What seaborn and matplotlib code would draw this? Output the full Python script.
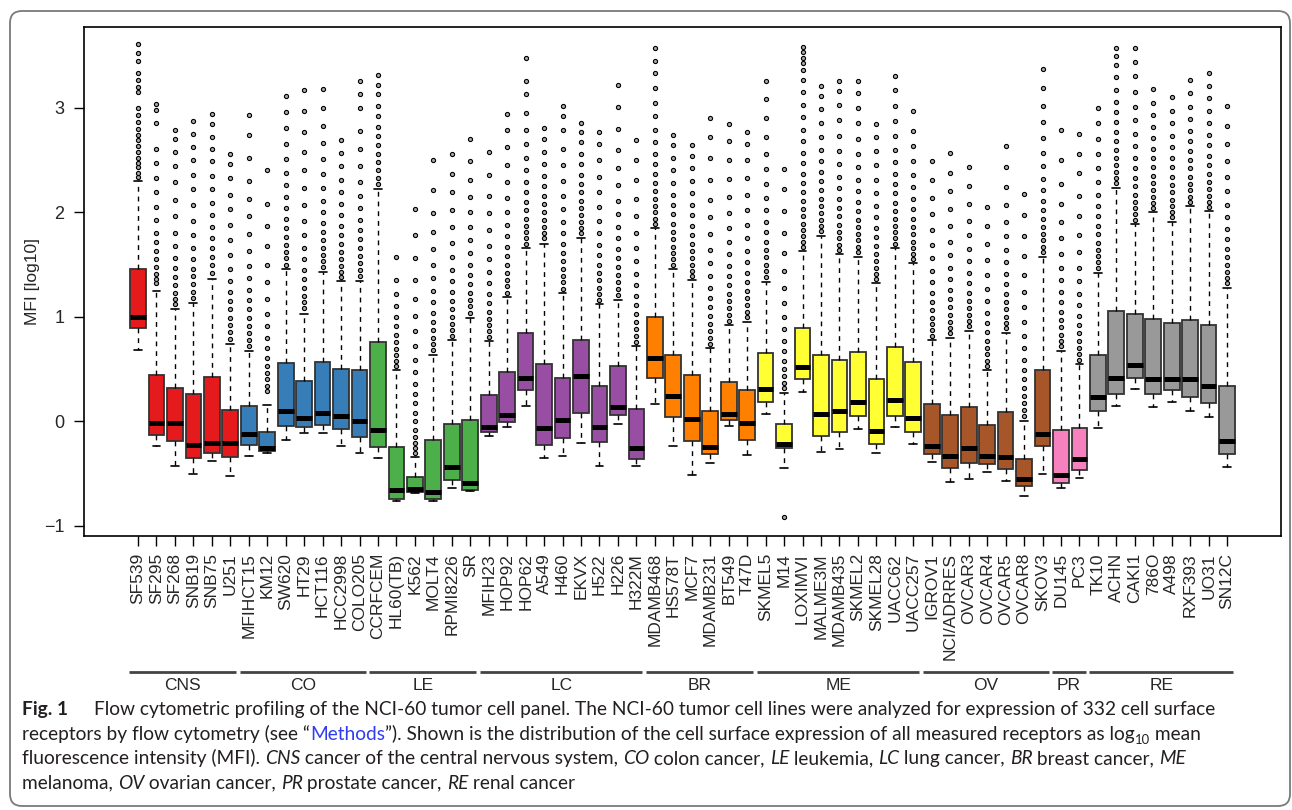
import numpy as np
import pandas as pd
import matplotlib
matplotlib.use("Agg")
import matplotlib.pyplot as plt
from matplotlib.patches import FancyBboxPatch
from matplotlib.transforms import IdentityTransform, blended_transform_factory
import seaborn as sns

# -----------------------------------------------------------------
# data (log10 MFI)
# -----------------------------------------------------------------
lines = ["SF539", "SF295", "SF268", "SNB19", "SNB75", "U251",
         "MFIHCT15", "KM12", "SW620", "HT29", "HCT116", "HCC2998", "COLO205",
         "CCRFCEM", "HL60(TB)", "K562", "MOLT4", "RPMI8226", "SR",
         "MFIH23", "HOP92", "HOP62", "A549", "H460", "EKVX", "H522", "H226", "H322M",
         "MDAMB468", "HS578T", "MCF7", "MDAMB231", "BT549", "T47D",
         "SKMEL5", "M14", "LOXIMVI", "MALME3M", "MDAMB435", "SKMEL2", "SKMEL28",
         "UACC62", "UACC257",
         "IGROV1", "NCI/ADRRES", "OVCAR3", "OVCAR4", "OVCAR5", "OVCAR8", "SKOV3",
         "DU145", "PC3",
         "TK10", "ACHN", "CAKI1", "786O", "A498", "RXF393", "UO31", "SN12C"]

groups = ["CNS", "CO", "LE", "LC", "BR", "ME", "OV", "PR", "RE"]
group_sizes = [6, 7, 6, 9, 6, 9, 7, 2, 8]
group_colors = ["#E41A1C", "#377EB8", "#4DAF4A", "#984EA3", "#FF7F00",
                "#FFFF33", "#A65628", "#F781BF", "#999999"]

whisker_lo = [0.68, -0.24, -0.43, -0.50, -0.38, -0.52,
              -0.33, -0.306, -0.18, -0.108, -0.108, -0.24, -0.30,
              -0.354, -0.766, -0.69, -0.766, -0.635, -0.67,
              -0.137, -0.057, 0.15, -0.354, -0.335, -0.204, -0.43, -0.022, -0.43,
              0.163, -0.233, -0.517, -0.40, -0.048, -0.325,
              0.067, -0.45, 0.278, -0.297, -0.265, -0.073, -0.30, -0.057, -0.217,
              -0.386, -0.58, -0.55, -0.485, -0.568, -0.718, -0.504,
              -0.638, -0.545,
              -0.06, 0.15, 0.313, 0.137, 0.188, 0.102, 0.038, -0.434]
q1 = [0.89, -0.128, -0.185, -0.35, -0.30, -0.34,
      -0.23, -0.284, -0.048, -0.057, -0.035, -0.077, -0.147,
      -0.25, -0.74, -0.676, -0.743, -0.565, -0.657,
      -0.105, -0.01, 0.30, -0.223, -0.16, 0.08, -0.195, 0.057, -0.357,
      0.418, 0.045, -0.185, -0.316, 0.01, -0.179,
      0.188, -0.252, 0.405, -0.14, -0.105, 0.054, -0.217, 0.048, -0.102,
      -0.316, -0.45, -0.396, -0.408, -0.46, -0.62, -0.24,
      -0.59, -0.466,
      0.102, 0.258, 0.415, 0.258, 0.30, 0.23, 0.179, -0.313]
median = [1.00, -0.016, -0.02, -0.23, -0.204, -0.21,
          -0.118, -0.26, 0.096, 0.032, 0.08, 0.054, 0.006,
          -0.083, -0.657, -0.644, -0.673, -0.434, -0.59,
          -0.057, 0.06, 0.418, -0.06, 0.013, 0.434, -0.051, 0.14, -0.255,
          0.61, 0.246, 0.022, -0.246, 0.073, -0.016,
          0.309, -0.217, 0.523, 0.07, 0.102, 0.185, -0.09, 0.20, 0.035,
          -0.24, -0.335, -0.26, -0.335, -0.344, -0.552, -0.12,
          -0.517, -0.364,
          0.23, 0.41, 0.54, 0.405, 0.408, 0.405, 0.341, -0.185]
q3 = [1.455, 0.44, 0.32, 0.26, 0.42, 0.105,
      0.15, -0.105, 0.555, 0.386, 0.565, 0.50, 0.494,
      0.762, -0.25, -0.536, -0.175, -0.029, 0.016,
      0.249, 0.472, 0.842, 0.549, 0.41, 0.778, 0.335, 0.53, 0.121,
      1.0, 0.635, 0.443, 0.099, 0.373, 0.297,
      0.65, -0.022, 0.896, 0.632, 0.584, 0.663, 0.40, 0.715, 0.565,
      0.163, 0.06, 0.137, -0.038, 0.086, -0.36, 0.488,
      -0.08, -0.06,
      0.632, 1.056, 1.024, 0.976, 0.94, 0.97, 0.92, 0.335]
whisker_hi = [2.30, 1.25, 1.07, 1.13, 1.36, 0.74,
              0.676, 0.156, 1.455, 1.03, 1.43, 1.34, 1.346,
              2.22, 0.49, -0.34, 0.63, 0.778, 0.99,
              0.766, 1.187, 1.655, 1.70, 1.228, 1.754, 1.12, 1.164, 0.718,
              1.847, 1.458, 1.35, 0.70, 0.92, 0.954,
              1.336, 0.27, 1.63, 1.777, 1.598, 1.573, 1.32, 1.655, 1.51,
              0.778, 0.794, 0.868, 0.488, 0.845, 0.0, 1.576,
              0.673, 0.545,
              1.423, 2.236, 1.885, 2.0, 1.91, 2.06, 2.01, 1.276]

outliers = [
    [2.34, 2.38, 2.43, 2.47, 2.52, 2.58, 2.63, 2.69, 2.74, 2.80, 2.86, 2.93, 3.00, 3.15, 3.20, 3.27, 3.33, 3.45, 3.52, 3.61],
    [1.32, 1.36, 1.41, 1.48, 1.55, 1.63, 1.72, 1.80, 1.93, 2.05, 2.19, 2.33, 2.47, 2.61, 2.85, 2.98, 3.04],
    [1.12, 1.17, 1.23, 1.30, 1.38, 1.47, 1.56, 1.68, 1.80, 1.96, 2.12, 2.29, 2.44, 2.58, 2.70, 2.79],
    [1.18, 1.24, 1.31, 1.39, 1.46, 1.55, 1.66, 1.78, 1.92, 2.07, 2.22, 2.36, 2.50, 2.62, 2.75, 2.87],
    [1.42, 1.50, 1.57, 1.66, 1.75, 1.86, 1.97, 2.09, 2.22, 2.35, 2.49, 2.61, 2.72, 2.84, 2.94],
    [0.79, 0.85, 0.92, 0.99, 1.07, 1.15, 1.24, 1.34, 1.46, 1.59, 1.73, 1.88, 2.03, 2.17, 2.33, 2.46, 2.56],
    [0.72, 0.78, 0.84, 0.91, 0.99, 1.07, 1.16, 1.26, 1.37, 1.49, 1.63, 1.79, 1.96, 2.13, 2.30, 2.52, 2.74, 2.93],
    [0.29, 0.34, 0.40, 0.46, 0.53, 0.61, 0.70, 0.80, 0.91, 1.03, 1.17, 1.33, 1.50, 1.68, 1.87, 2.08, 2.40],
    [1.50, 1.56, 1.62, 1.69, 1.76, 1.85, 1.94, 2.04, 2.15, 2.26, 2.38, 2.51, 2.65, 2.81, 2.96, 3.11],
    [1.08, 1.14, 1.20, 1.28, 1.36, 1.45, 1.55, 1.66, 1.78, 1.92, 2.07, 2.23, 2.40, 2.58, 2.77, 2.97, 3.17],
    [1.48, 1.53, 1.59, 1.66, 1.73, 1.81, 1.90, 2.00, 2.11, 2.23, 2.37, 2.51, 2.66, 2.83, 3.00, 3.18],
    [1.38, 1.43, 1.49, 1.55, 1.62, 1.70, 1.78, 1.87, 1.97, 2.08, 2.19, 2.31, 2.44, 2.57, 2.69],
    [1.39, 1.45, 1.51, 1.58, 1.66, 1.74, 1.83, 1.93, 2.04, 2.16, 2.29, 2.44, 2.61, 2.78, 3.00, 3.13, 3.26],
    [2.27, 2.33, 2.40, 2.48, 2.56, 2.64, 2.73, 2.82, 2.92, 3.02, 3.13, 3.22, 3.31],
    [0.53, 0.58, 0.63, 0.69, 0.76, 0.83, 0.91, 1.00, 1.10, 1.22, 1.35, 1.57],
    [-0.30, -0.26, -0.21, -0.15, -0.08, 0.00, 0.08, 0.17, 0.26, 0.36, 0.47, 0.59, 0.72, 0.86, 1.01, 1.17, 1.35, 1.56, 1.78, 2.03],
    [0.68, 0.74, 0.80, 0.87, 0.95, 1.04, 1.14, 1.25, 1.37, 1.50, 1.65, 1.81, 1.99, 2.21, 2.50],
    [0.82, 0.87, 0.93, 1.00, 1.07, 1.15, 1.24, 1.34, 1.45, 1.57, 1.71, 1.86, 2.02, 2.19, 2.37, 2.56],
    [1.04, 1.10, 1.16, 1.23, 1.31, 1.40, 1.50, 1.61, 1.73, 1.86, 2.00, 2.15, 2.31, 2.49, 2.70],
    [0.81, 0.86, 0.92, 0.98, 1.05, 1.13, 1.22, 1.32, 1.43, 1.55, 1.68, 1.83, 1.99, 2.16, 2.36, 2.58],
    [1.23, 1.29, 1.35, 1.42, 1.50, 1.58, 1.67, 1.77, 1.88, 2.00, 2.14, 2.29, 2.45, 2.62, 2.79, 2.94],
    [1.70, 1.75, 1.81, 1.87, 1.94, 2.02, 2.10, 2.19, 2.29, 2.40, 2.52, 2.65, 2.79, 2.95, 3.13, 3.26, 3.48],
    [1.75, 1.80, 1.86, 1.93, 2.00, 2.08, 2.16, 2.25, 2.35, 2.46, 2.58, 2.70, 2.81],
    [1.27, 1.33, 1.39, 1.46, 1.53, 1.61, 1.70, 1.80, 1.91, 2.03, 2.16, 2.30, 2.45, 2.61, 2.79, 2.92, 3.02],
    [1.80, 1.85, 1.91, 1.97, 2.04, 2.11, 2.19, 2.27, 2.36, 2.46, 2.56, 2.67, 2.77, 2.85],
    [1.16, 1.22, 1.28, 1.35, 1.42, 1.50, 1.59, 1.69, 1.80, 1.92, 2.05, 2.19, 2.34, 2.50, 2.65, 2.77],
    [1.21, 1.27, 1.33, 1.40, 1.48, 1.56, 1.65, 1.75, 1.86, 1.98, 2.11, 2.26, 2.42, 2.60, 2.80, 3.01, 3.22],
    [0.76, 0.82, 0.88, 0.95, 1.03, 1.11, 1.20, 1.30, 1.41, 1.53, 1.66, 1.80, 1.96, 2.13, 2.31, 2.50, 2.69],
    [1.89, 1.94, 2.00, 2.06, 2.13, 2.20, 2.28, 2.37, 2.46, 2.56, 2.67, 2.79, 2.92, 3.05, 3.19, 3.33, 3.45, 3.576],
    [1.50, 1.55, 1.61, 1.67, 1.74, 1.81, 1.89, 1.98, 2.07, 2.17, 2.28, 2.40, 2.52, 2.64, 2.74],
    [1.39, 1.44, 1.50, 1.56, 1.63, 1.70, 1.78, 1.87, 1.97, 2.07, 2.18, 2.30, 2.42, 2.54, 2.64],
    [0.74, 0.80, 0.86, 0.93, 1.01, 1.09, 1.18, 1.28, 1.39, 1.51, 1.64, 1.79, 1.95, 2.12, 2.31, 2.52, 2.72, 2.90],
    [0.96, 1.02, 1.08, 1.15, 1.22, 1.30, 1.39, 1.49, 1.60, 1.72, 1.85, 1.99, 2.15, 2.32, 2.50, 2.68, 2.845],
    [1.00, 1.05, 1.11, 1.18, 1.25, 1.33, 1.42, 1.52, 1.63, 1.75, 1.88, 2.02, 2.17, 2.33, 2.50, 2.65, 2.77],
    [1.38, 1.44, 1.50, 1.57, 1.64, 1.72, 1.81, 1.91, 2.02, 2.14, 2.27, 2.41, 2.56, 2.72, 2.90, 3.08, 3.26],
    [-0.92, 0.32, 0.37, 0.43, 0.50, 0.58, 0.67, 0.77, 0.88, 1.00, 1.13, 1.28, 1.44, 1.61, 1.80, 2.01, 2.22, 2.41],
    [1.67, 1.72, 1.77, 1.83, 1.89, 1.96, 2.03, 2.11, 2.19, 2.28, 2.37, 2.47, 2.57, 2.68, 2.79, 2.91, 3.03, 3.15, 3.27, 3.36, 3.43, 3.48, 3.53, 3.585],
    [1.82, 1.87, 1.93, 1.99, 2.06, 2.13, 2.21, 2.30, 2.39, 2.49, 2.60, 2.72, 2.85, 2.99, 3.11, 3.21],
    [1.64, 1.69, 1.75, 1.81, 1.88, 1.96, 2.04, 2.13, 2.23, 2.34, 2.46, 2.59, 2.73, 2.88, 3.03, 3.16, 3.26],
    [1.62, 1.67, 1.73, 1.79, 1.86, 1.93, 2.01, 2.10, 2.20, 2.31, 2.43, 2.56, 2.70, 2.85, 3.00, 3.14, 3.26],
    [1.36, 1.41, 1.47, 1.53, 1.60, 1.68, 1.76, 1.85, 1.95, 2.06, 2.18, 2.31, 2.45, 2.59, 2.72, 2.84],
    [1.70, 1.75, 1.81, 1.87, 1.94, 2.01, 2.09, 2.18, 2.27, 2.37, 2.48, 2.60, 2.73, 2.87, 3.02, 3.17, 3.30],
    [1.55, 1.60, 1.66, 1.72, 1.79, 1.86, 1.94, 2.03, 2.13, 2.24, 2.36, 2.49, 2.63, 2.78, 2.97],
    [0.82, 0.87, 0.93, 0.99, 1.06, 1.14, 1.23, 1.33, 1.44, 1.56, 1.69, 1.83, 1.98, 2.14, 2.31, 2.49],
    [0.84, 0.89, 0.95, 1.02, 1.09, 1.17, 1.26, 1.36, 1.47, 1.59, 1.72, 1.87, 2.03, 2.20, 2.38, 2.565],
    [0.91, 0.96, 1.02, 1.08, 1.15, 1.23, 1.32, 1.42, 1.53, 1.65, 1.78, 1.92, 2.08, 2.25, 2.43],
    [0.53, 0.58, 0.64, 0.70, 0.77, 0.85, 0.94, 1.04, 1.15, 1.27, 1.40, 1.54, 1.70, 1.87, 2.05],
    [0.89, 0.94, 1.00, 1.07, 1.14, 1.22, 1.31, 1.41, 1.52, 1.64, 1.77, 1.91, 2.07, 2.24, 2.43, 2.63],
    [0.05, 0.11, 0.17, 0.24, 0.32, 0.40, 0.49, 0.59, 0.70, 0.82, 0.95, 1.09, 1.24, 1.40, 1.58, 1.77, 1.97, 2.175],
    [1.62, 1.67, 1.73, 1.79, 1.86, 1.94, 2.02, 2.11, 2.21, 2.32, 2.44, 2.57, 2.71, 2.86, 3.02, 3.19, 3.37],
    [0.72, 0.77, 0.83, 0.90, 0.97, 1.05, 1.14, 1.24, 1.35, 1.47, 1.60, 1.75, 1.91, 2.08, 2.27, 2.50, 2.79],
    [0.59, 0.64, 0.70, 0.77, 0.84, 0.92, 1.01, 1.11, 1.22, 1.34, 1.47, 1.62, 1.78, 1.96, 2.16, 2.38, 2.56, 2.746],
    [1.47, 1.52, 1.58, 1.64, 1.71, 1.79, 1.87, 1.96, 2.06, 2.17, 2.29, 2.42, 2.56, 2.70, 2.85, 3.00],
    [2.28, 2.33, 2.39, 2.45, 2.52, 2.60, 2.68, 2.77, 2.86, 2.96, 3.06, 3.17, 3.29, 3.41, 3.50, 3.576],
    [1.93, 1.98, 2.04, 2.10, 2.17, 2.25, 2.33, 2.42, 2.52, 2.63, 2.75, 2.88, 3.01, 3.15, 3.30, 3.44, 3.576],
    [2.04, 2.09, 2.15, 2.21, 2.28, 2.35, 2.43, 2.52, 2.61, 2.71, 2.82, 2.93, 3.05, 3.18],
    [1.95, 2.00, 2.06, 2.12, 2.19, 2.26, 2.34, 2.43, 2.52, 2.62, 2.73, 2.85, 2.97, 3.10],
    [2.10, 2.15, 2.21, 2.27, 2.34, 2.42, 2.50, 2.59, 2.68, 2.78, 2.89, 3.01, 3.14, 3.27],
    [2.05, 2.10, 2.16, 2.22, 2.29, 2.37, 2.45, 2.54, 2.64, 2.74, 2.85, 2.97, 3.09, 3.21, 3.33],
    [1.32, 1.37, 1.43, 1.50, 1.57, 1.65, 1.74, 1.84, 1.95, 2.07, 2.20, 2.34, 2.49, 2.65, 2.83, 3.02],
]

# -----------------------------------------------------------------
# tables for seaborn
# -----------------------------------------------------------------
# each box is described by its five numbers; q1/q3 doubled so that the
# percentiles of this 7-value sample hit the quartiles exactly
box_rows = []
for i, name in enumerate(lines):
    for v in [whisker_lo[i], q1[i], q1[i], median[i], q3[i], q3[i], whisker_hi[i]]:
        box_rows.append((name, v))
box_df = pd.DataFrame(box_rows, columns=["line", "mfi"])

out_df = pd.DataFrame([(name, v) for name, vals in zip(lines, outliers) for v in vals],
                      columns=["line", "mfi"])

line_group = np.repeat(groups, group_sizes)
palette = {name: group_colors[groups.index(g)] for name, g in zip(lines, line_group)}

# -----------------------------------------------------------------
# figure
# -----------------------------------------------------------------
sns.set_style("white")
plt.rcParams["font.family"] = ["Liberation Sans", "DejaVu Sans"]

W, H = 1292, 810
fig = plt.figure(figsize=(W / 100, H / 100), dpi=100)
ax = fig.add_axes([84 / W, 1 - 536 / H, (1281 - 84) / W, (536 - 27) / H])

sns.boxplot(data=box_df, x="line", y="mfi", hue="line", order=lines, hue_order=lines,
            palette=palette, legend=False, dodge=False, saturation=1, width=0.85,
            whis=(0, 100), showfliers=False, linecolor="#333333", linewidth=1.3,
            medianprops=dict(color="black", linewidth=3.6, solid_capstyle="butt"),
            whiskerprops=dict(color="black", linewidth=1.0, linestyle=(0, (3.5, 3.5))),
            capprops=dict(color="black", linewidth=1.2), ax=ax)

sns.stripplot(data=out_df, x="line", y="mfi", order=lines, jitter=False,
              color="#a8a8a8", edgecolor="black", linewidth=0.8, size=3.0,
              ax=ax, zorder=4)

ax.set_xlim(-2.925, 61.92)
ax.set_ylim(-1.098, 3.773)
ax.set_xticks(range(len(lines)))
ax.set_xticklabels(lines, rotation=90, fontsize=12.5)
ax.set_yticks([-1, 0, 1, 2, 3])
ax.set_yticklabels(["\u22121", "0", "1", "2", "3"], fontsize=13)
ax.tick_params(axis="both", direction="out", length=7.3, width=1.0, color="black",
               bottom=True, left=True)
ax.tick_params(axis="x", pad=5)
ax.tick_params(axis="y", pad=7)
ax.set_xlabel("")
ax.set_ylabel("MFI [log10]", fontsize=12.5)
ax.yaxis.set_label_coords(-0.0368, 0.5)
for sp in ax.spines.values():
    sp.set_color("black")
    sp.set_linewidth(1.2)

# group bars under the labels
trans = blended_transform_factory(ax.transData, fig.transFigure)
start = 0
for g, n in zip(groups, group_sizes):
    x0, x1 = start - 0.47, start + n - 1 + 0.33
    fig.add_artist(plt.Line2D([x0, x1], [1 - 672 / H] * 2, transform=trans,
                              color="#444444", linewidth=2, solid_capstyle="butt"))
    fig.text((x0 + x1) / 2, 1 - 686 / H, g, transform=trans, ha="center",
             va="center", fontsize=12.5)
    start += n

# -----------------------------------------------------------------
# caption
# -----------------------------------------------------------------
CAP_FONT = ["Lato", "DejaVu Sans"]
renderer = fig.canvas.get_renderer()


def props(style, size):
    kw = dict(family=CAP_FONT, fontsize=size, color="#231f20")
    if style == "b":
        kw["fontweight"] = "bold"
    elif style == "i":
        kw["style"] = "italic"
    elif style == "blue":
        kw["color"] = "#2f3cf2"
    elif style == "sub":
        kw["fontsize"] = size * 0.68
    return kw


def width_px(s, kw):
    t = fig.text(0, 0, "|" + s + "|", **kw)
    w1 = t.get_window_extent(renderer).width
    t.set_text("||")
    w0 = t.get_window_extent(renderer).width
    t.remove()
    return w1 - w0


def draw_runs(runs, x, base, size):
    for s, st in runs:
        kw = props(st, size)
        dy = 4 if st == "sub" else 0
        fig.text(x / W, 1 - (base + dy) / H, s, va="baseline", ha="left", **kw)
        x += width_px(s, kw)
    return x


caption = [
    [("Flow cytometric profiling of the NCI-60 tumor cell panel. The NCI-60 tumor cell "
      "lines were analyzed for expression of 332 cell surface", "n")],
    [("receptors by flow cytometry (see \u201c", "n"), ("Methods", "blue"),
     ("\u201d). Shown is the distribution of the cell surface expression of all measured "
      "receptors as log", "n"), ("10", "sub"), (" mean", "n")],
    [("fluorescence intensity (MFI). ", "n"), ("CNS", "i"),
     (" cancer of the central nervous system, ", "n"), ("CO", "i"), (" colon cancer, ", "n"),
     ("LE", "i"), (" leukemia, ", "n"), ("LC", "i"), (" lung cancer, ", "n"),
     ("BR", "i"), (" breast cancer, ", "n"), ("ME", "i")],
    [("melanoma, ", "n"), ("OV", "i"), (" ovarian cancer, ", "n"), ("PR", "i"),
     (" prostate cancer, ", "n"), ("RE", "i"), (" renal cancer", "n")],
]

# fit the caption size to the width of its first line
size = 12.0
size *= (1213 - 94) / width_px(caption[0][0][0], props("n", size))

draw_runs([("Fig. 1", "b")], 22, 715, size)
draw_runs(caption[0], 94, 715, size)
for k, runs in enumerate(caption[1:], start=1):
    draw_runs(runs, 22, 715 + 24.6 * k, size)

# rounded frame round the whole figure
frame = FancyBboxPatch((10, 4), 1280, 795, boxstyle="round,pad=0,rounding_size=12",
                       transform=IdentityTransform(), facecolor="none",
                       edgecolor="#7a7a7a", linewidth=1.3)
fig.add_artist(frame)

fig.savefig("out.png", dpi=100)
